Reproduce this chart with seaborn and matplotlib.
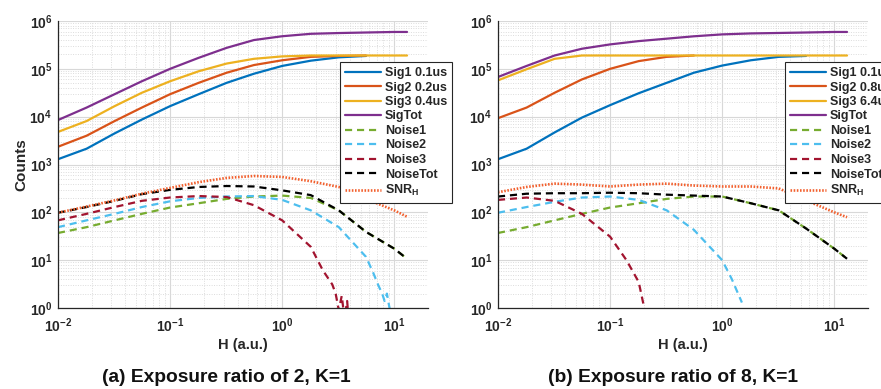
import numpy as np
import pandas as pd
import matplotlib
matplotlib.use("Agg")
import matplotlib.pyplot as plt
import seaborn as sns
from matplotlib.ticker import LogLocator, NullFormatter

# ---------------- data ----------------
H = [0.01, 0.018, 0.032, 0.056, 0.1, 0.18, 0.32, 0.56, 1.0, 1.8, 3.2, 5.6, 10, 13]
nan = np.nan

# panel (a): exposure ratio 2
a_sig1 = [1290, 2140, 4470, 8700, 16600, 29500, 51000, 79000, 115000, 148000, 174000, 186000, nan, nan]
a_sig2 = [2350, 4000, 8100, 15500, 29500, 51000, 83000, 120000, 151000, 178000, 186000, 190000, nan, nan]
a_sig3 = [4800, 8100, 16600, 31600, 55000, 89000, 129000, 162000, 182000, 190000, 190000, 190000, 190000, 190000]
a_sigtot = [8500, 15500, 29500, 55000, 100000, 170000, 275000, 400000, 480000, 540000, 560000, 575000, 590000, 590000]
a_noise1 = [37, 49, 68, 93, 126, 155, 191, 214, 224, 200, 110, 39, 17.4, 10.7]
a_h_noise2 = [0.01, 0.018, 0.032, 0.056, 0.1, 0.18, 0.32, 0.56, 1.0, 1.8, 3.2, 5.6, 6.5, 7.2, 7.8, 8.2, 8.6, 9.0, 9.4]
a_noise2 = [49, 68, 93, 129, 170, 200, 214, 219, 182, 110, 49, 11.7, 5.4, 3.0, 2.0, 1.4, 2.0, 1.1, 0.7]
a_h_noise3 = [0.01, 0.018, 0.032, 0.056, 0.1, 0.18, 0.32, 0.56, 1.0, 1.8, 2.3, 2.8, 3.0, 3.2, 3.4, 3.6, 3.8, 4.0]
a_noise3 = [68, 93, 129, 174, 204, 219, 209, 141, 68, 19, 6.2, 3.1, 2.0, 0.9, 1.8, 0.6, 1.4, 0.3]
a_noisetot = [98, 129, 174, 240, 295, 339, 355, 347, 288, 229, 110, 39, 17.4, 10.7]
a_snr = [98, 132, 178, 245, 324, 427, 525, 575, 550, 447, 339, 191, 110, 81]

# panel (b): exposure ratio 8
b_sig1 = [1290, 2140, 4680, 9550, 17400, 30900, 51000, 83000, 117000, 151000, 178000, 186000, nan, nan]
b_sig2 = [9300, 15500, 31600, 60000, 100000, 145000, 178000, 190000, nan, nan, nan, nan, nan, nan]
b_sig3 = [57500, 98000, 162000, 190000, 190000, 190000, 190000, 190000, 190000, 190000, 190000, 190000, 190000, 190000]
b_sigtot = [67600, 115000, 190000, 263000, 324000, 380000, 427000, 479000, 525000, 550000, 562000, 575000, 590000, 590000]
b_noise1 = [37, 49, 68, 93, 126, 155, 191, 214, 214, 155, 110, 46, 17.4, 10.7]
b_h_noise2 = [0.01, 0.018, 0.032, 0.056, 0.1, 0.18, 0.32, 0.56, 1.0, 1.22, 1.5]
b_noise2 = [98, 129, 166, 204, 214, 182, 110, 43, 10, 4.0, 1.3]
b_h_noise3 = [0.01, 0.018, 0.032, 0.056, 0.1, 0.14, 0.18, 0.2]
b_noise3 = [182, 204, 174, 93, 31, 10, 3.5, 1.1]
b_noisetot = [214, 245, 251, 251, 257, 251, 234, 224, 214, 155, 110, 46, 17.4, 10.7]
b_snr = [263, 339, 398, 380, 347, 380, 398, 363, 347, 347, 316, 178, 100, 79]

labels_a = ["Sig1 0.1us", "Sig2 0.2us", "Sig3 0.4us", "SigTot", "Noise1", "Noise2", "Noise3", "NoiseTot", r"SNR$_\mathdefault{H}$"]
labels_b = ["Sig1 0.1us", "Sig2 0.8us", "Sig3 6.4us", "SigTot", "Noise1", "Noise2", "Noise3", "NoiseTot", r"SNR$_\mathdefault{H}$"]
titles = ["(a) Exposure ratio of 2, K=1", "(b) Exposure ratio of 8, K=1"]

# ---------------- style ----------------
sns.set_theme(style="white")
plt.rcParams['font.family'] = ['Liberation Sans', 'DejaVu Sans']
plt.rcParams['font.weight'] = 'bold'

colors = ["#0072BD", "#D95319", "#EDB120", "#7E2F8E", "#77AC30", "#4DBEEE", "#A2142F", "#000000", "#F2602E"]
dash = (0, (3.2, 2.2))
styles = ["-", "-", "-", "-", dash, dash, dash, dash, (0, (0.6, 0.6))]
widths = [1.6, 1.6, 1.6, 1.6, 1.6, 1.6, 1.6, 1.6, 1.9]

fig = plt.figure(figsize=(8.81, 3.89), dpi=100)
W, Hpx = 881, 389
ax_a = fig.add_axes([58 / W, 1 - 308 / Hpx, 370 / W, 287 / Hpx])
ax_b = fig.add_axes([498 / W, 1 - 308 / Hpx, 370 / W, 287 / Hpx])

panels = [
    (ax_a, [(H, a_sig1), (H, a_sig2), (H, a_sig3), (H, a_sigtot), (H, a_noise1),
            (a_h_noise2, a_noise2), (a_h_noise3, a_noise3), (H, a_noisetot), (H, a_snr)], labels_a, 340),
    (ax_b, [(H, b_sig1), (H, b_sig2), (H, b_sig3), (H, b_sigtot), (H, b_noise1),
            (b_h_noise2, b_noise2), (b_h_noise3, b_noise3), (H, b_noisetot), (H, b_snr)], labels_b, 785),
]

for i, (ax, series, labels, legx) in enumerate(panels):
    for (hx, vals), lab, c, ls, lw in zip(series, labels, colors, styles, widths):
        df = pd.DataFrame({"H": hx, "v": vals}).dropna()
        sns.lineplot(data=df, x="H", y="v", ax=ax, color=c, linestyle=ls, linewidth=lw,
                     label=lab, estimator=None, sort=False)
    ax.set_xscale("log")
    ax.set_yscale("log")
    ax.set_xlim(0.01, 20)
    ax.set_ylim(1, 1e6)
    ax.xaxis.set_major_locator(LogLocator(base=10, numticks=10))
    ax.yaxis.set_major_locator(LogLocator(base=10, numticks=10))
    ax.xaxis.set_minor_locator(LogLocator(base=10, subs=np.arange(2, 10), numticks=20))
    ax.yaxis.set_minor_locator(LogLocator(base=10, subs=np.arange(2, 10), numticks=20))
    ax.xaxis.set_minor_formatter(NullFormatter())
    ax.yaxis.set_minor_formatter(NullFormatter())
    ax.grid(True, which="major", color="#d8d8d8", linewidth=0.8, linestyle="-")
    ax.grid(True, which="minor", color="#dcdcdc", linewidth=0.7, linestyle=(0, (1, 1.5)))
    ax.set_axisbelow(True)
    for s in ["top", "right"]:
        ax.spines[s].set_visible(False)
    for s in ["left", "bottom"]:
        ax.spines[s].set_color("#262626")
        ax.spines[s].set_linewidth(0.9)
    ax.tick_params(which="major", direction="in", length=3.5, width=0.8, color="#262626",
                   labelsize=10, labelcolor="#262626", pad=4)
    ax.tick_params(which="minor", direction="in", length=2, width=0.6, color="#262626")
    ax.tick_params(axis="x", which="major", pad=6)
    for t in ax.get_xticklabels() + ax.get_yticklabels():
        t.set_fontweight("bold")
    ax.set_xlabel("H (a.u.)", fontsize=10.6, fontweight="bold", color="#262626", labelpad=2)
    if i == 0:
        ax.set_ylabel("Counts", fontsize=11, fontweight="bold", color="#262626", labelpad=1)
    else:
        ax.set_ylabel("")
    ax.legend(loc="upper left", bbox_to_anchor=(legx / W, 1 - 62 / Hpx), bbox_transform=fig.transFigure,
              frameon=True, fancybox=False, edgecolor="#262626", framealpha=1, fontsize=9,
              handlelength=2.9, handletextpad=0.3, labelspacing=0.2, borderpad=0.4,
              borderaxespad=0)
    ax.get_legend().get_frame().set_linewidth(0.8)
    fig.text((58 + 168) / W if i == 0 else (498 + 175) / W, 1 - 378 / Hpx, titles[i],
             ha="center", va="center", fontsize=13.8, fontweight="bold", color="#111111")

fig.savefig("out.png", dpi=100)
